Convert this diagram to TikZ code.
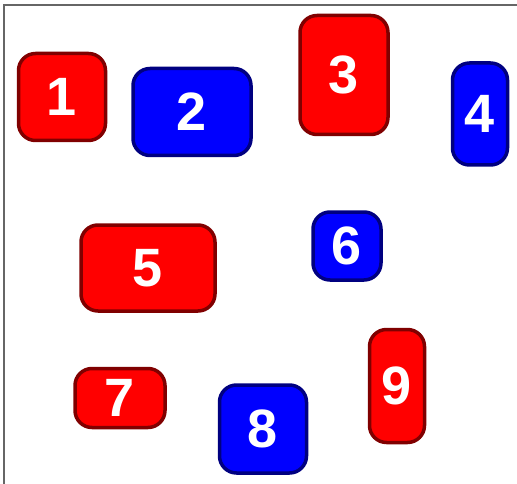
\documentclass[tikz,border=0pt]{standalone}
\usepackage{fontspec}
\setsansfont{Liberation Sans}
\usetikzlibrary{positioning}

\begin{document}
\begin{tikzpicture}[x=1pt,y=-1pt,
		tile/.style={rounded corners=17pt, line width=3.5pt, inner sep=0pt,
			text=white, font=\sffamily\bfseries\fontsize{54}{54}\selectfont},
		redtile/.style={tile, draw=red!50!black, fill=red},
		bluetile/.style={tile, draw=blue!50!black, fill=blue}]
			\useasboundingbox (0,0) rectangle (517,484);
			% frame on top and left
			\draw[gray!80!black, line width=1.2pt] (4,484) -- (4,5) -- (517,5);
			% tiles: number/x/y/width/height/colour
			\foreach \n/\x/\y/\w/\h/\c in {1/62/97/87/87/red, 2/192/112/118/87/blue,
				3/344/75/88/119/red, 4/480/114/55/102/blue, 5/148/268/134/86/red,
				6/347/246/68/68/blue, 7/120/398/90/59/red, 8/263/429/87/88/blue,
				9/397/386/55/113/red} {
				\node[\c tile, minimum width=\w pt, minimum height=\h pt] (b\n) at (\x,\y) {\n};
			}
		\end{tikzpicture}
\end{document}
